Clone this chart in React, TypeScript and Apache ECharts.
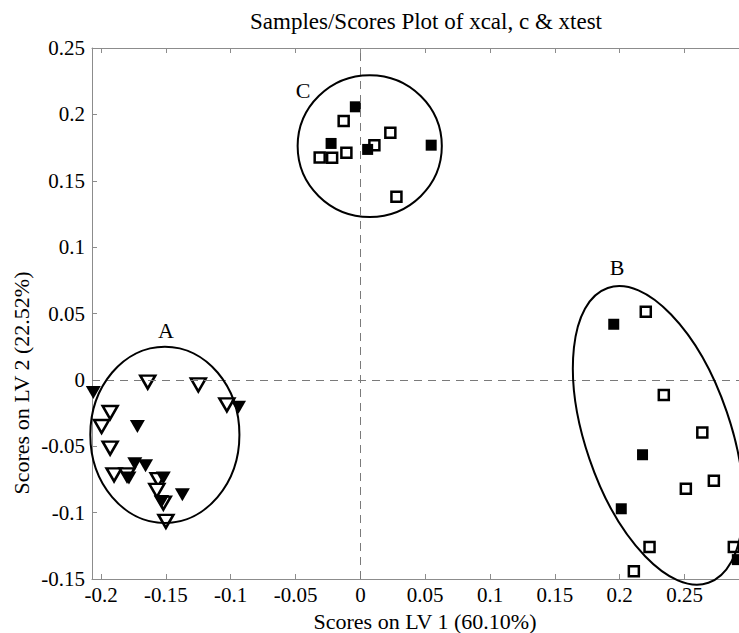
import React, { useEffect, useRef } from "react";
import * as echarts from "echarts";

// ---- Data ----
const titleText = "Samples/Scores Plot of xcal, c & xtest";
const xAxisName = "Scores on LV 1 (60.10%)";
const yAxisName = "Scores on LV 2 (22.52%)";

// Group A: calibration (open triangles) and test (filled triangles)
const triOpenX = [-0.164, -0.125, -0.103, -0.193, -0.1996, -0.193, -0.19, -0.18, -0.156, -0.157, -0.152, -0.15];
const triOpenY = [-0.0017, -0.0038, -0.0188, -0.0246, -0.0351, -0.0514, -0.0715, -0.0715, -0.0752, -0.0833, -0.0928, -0.1066];
const triFillX = [-0.206, -0.094, -0.172, -0.174, -0.1657, -0.1785, -0.152, -0.1533, -0.1373];
const triFillY = [-0.0095, -0.0206, -0.0351, -0.0632, -0.0647, -0.074, -0.074, -0.0916, -0.0865];

// Groups B and C: open squares and filled squares
const sqOpenX = [-0.0129, -0.0314, -0.0218, -0.0108, 0.0108, 0.0231, 0.0278, 0.2201, 0.234, 0.2637, 0.2726, 0.251, 0.223, 0.288, 0.2109];
const sqOpenY = [0.1951, 0.1676, 0.1673, 0.171, 0.1768, 0.1861, 0.1379, 0.0514, -0.0113, -0.0397, -0.076, -0.082, -0.1259, -0.1259, -0.1442];
const sqFillX = [-0.0039, -0.0226, 0.0056, 0.0546, 0.1954, 0.2176, 0.2012, 0.2907];
const sqFillY = [0.2057, 0.1781, 0.1736, 0.1768, 0.0419, -0.0564, -0.0971, -0.1354];

// Confidence ellipses (center, radii in axis units, rotation in degrees)
const ellipseCx = [-0.1508, 0.2296, 0.0072];
const ellipseCy = [-0.0414, -0.0418, 0.1761];
const ellipseRx = [0.0575, 0.056, 0.0556];
const ellipseRy = [0.0664, 0.1174, 0.0534];
const ellipseRot = [0, 18.85, 0];

// Cluster labels
const groupNames = ["A", "B", "C"];
const groupLabelX = [-0.15, 0.198, -0.0442];
const groupLabelY = [0.037, 0.0843, 0.218];

const xMin = -0.207;
const xMax = 0.292;
const yMin = -0.15;
const yMax = 0.25;

const FONT = "'Liberation Serif', 'Times New Roman', serif";

const zip = (xs: number[], ys: number[]) => xs.map((x, i) => [x, ys[i]]);

export default function App() {
  const ref = useRef<HTMLDivElement>(null);

  useEffect(() => {
    document.body.style.margin = "0";
    if (!ref.current) return;
    const chart = echarts.init(ref.current, undefined, { renderer: "svg" });

    const axisGray = "#8c8c8c";

    const option: any = {
      animation: false,
      backgroundColor: "#ffffff",
      title: {
        text: titleText,
        left: 421,
        top: 5,
        textAlign: "center",
        textStyle: { fontFamily: FONT, fontSize: 23, fontWeight: "normal", color: "#000" },
      },
      graphic: [
        {
          type: "text",
          x: 425,
          y: 621,
          style: {
            text: xAxisName,
            fontFamily: FONT,
            fontSize: 22,
            fill: "#000",
            align: "center",
            verticalAlign: "middle",
          },
        },
        {
          type: "text",
          x: 21,
          y: 383,
          rotation: Math.PI / 2,
          style: {
            text: yAxisName,
            fontFamily: FONT,
            fontSize: 22,
            fill: "#000",
            align: "center",
            verticalAlign: "middle",
          },
        },
      ],
      grid: { left: 92, top: 48, right: 0, bottom: 54 },
      xAxis: [
        {
          type: "value",
          min: xMin,
          max: xMax,
          minInterval: 0.05,
          maxInterval: 0.05,
          position: "bottom",
          axisLine: { show: true, onZero: false, lineStyle: { color: axisGray, width: 1 } },
          axisTick: { show: true, inside: true, length: 5, lineStyle: { color: axisGray } },
          axisLabel: {
            fontFamily: FONT,
            fontSize: 21,
            color: "#000",
            margin: 5,
            showMinLabel: false,
            showMaxLabel: false,
          },
          splitLine: { show: false },
        },
        {
          type: "value",
          min: xMin,
          max: xMax,
          minInterval: 0.05,
          maxInterval: 0.05,
          position: "top",
          axisLine: { show: true, onZero: false, lineStyle: { color: axisGray, width: 1 } },
          axisTick: { show: true, inside: true, length: 5, lineStyle: { color: axisGray } },
          axisLabel: { show: false },
          splitLine: { show: false },
        },
      ],
      yAxis: [
        {
          type: "value",
          min: yMin,
          max: yMax,
          interval: 0.05,
          axisLine: { show: true, onZero: false, lineStyle: { color: axisGray, width: 1 } },
          axisTick: { show: true, inside: true, length: 5, lineStyle: { color: axisGray } },
          axisLabel: { fontFamily: FONT, fontSize: 21, color: "#000", margin: 7 },
          splitLine: { show: false },
        },
      ],
      series: [
        {
          type: "scatter",
          name: "A open",
          data: zip(triOpenX, triOpenY),
          symbol: "triangle",
          symbolRotate: 180,
          symbolSize: [15, 13],
          itemStyle: { color: "#fff", borderColor: "#000", borderWidth: 2.5, opacity: 1 },
          z: 3,
          markLine: {
            silent: true,
            symbol: "none",
            label: { show: false },
            lineStyle: { color: "#7a7a7a", type: [8, 6], width: 1 },
            data: [{ xAxis: 0 }, { yAxis: 0 }],
          },
        },
        {
          type: "scatter",
          name: "A filled",
          data: zip(triFillX, triFillY),
          symbol: "triangle",
          symbolRotate: 180,
          symbolSize: [15, 13],
          itemStyle: { color: "#000", opacity: 1 },
          z: 4,
        },
        {
          type: "scatter",
          name: "open squares",
          data: zip(sqOpenX, sqOpenY),
          symbol: "rect",
          symbolSize: 10,
          itemStyle: { color: "#fff", borderColor: "#000", borderWidth: 2.5, opacity: 1 },
          z: 3,
        },
        {
          type: "scatter",
          name: "filled squares",
          data: zip(sqFillX, sqFillY),
          symbol: "rect",
          symbolSize: 11,
          itemStyle: { color: "#000", opacity: 1 },
          z: 4,
        },
        {
          type: "custom",
          name: "ellipses",
          clip: false,
          z: 5,
          data: ellipseCx.map((cx, i) => [cx, ellipseCy[i], ellipseRx[i], ellipseRy[i], ellipseRot[i]]),
          renderItem: (params: any, api: any) => {
            const c = api.coord([api.value(0), api.value(1)]);
            const s = api.size([api.value(2), api.value(3)]);
            return {
              type: "ellipse",
              x: c[0],
              y: c[1],
              rotation: (api.value(4) * Math.PI) / 180,
              shape: { cx: 0, cy: 0, rx: s[0], ry: s[1] },
              style: { fill: "none", stroke: "#000", lineWidth: 2 },
            };
          },
        },
        {
          type: "custom",
          name: "labels",
          clip: false,
          z: 6,
          data: groupNames.map((n, i) => [groupLabelX[i], groupLabelY[i], i]),
          renderItem: (params: any, api: any) => {
            const c = api.coord([api.value(0), api.value(1)]);
            return {
              type: "text",
              x: c[0],
              y: c[1],
              style: {
                text: groupNames[api.value(2)],
                fontFamily: FONT,
                fontSize: 22,
                fill: "#000",
                align: "center",
                verticalAlign: "middle",
              },
            };
          },
        },
      ],
    };

    chart.setOption(option);
    return () => chart.dispose();
  }, []);

  return (
    <div
      ref={ref}
      style={{ position: "absolute", left: 0, top: 0, width: 739, height: 633, background: "#fff" }}
    />
  );
}
